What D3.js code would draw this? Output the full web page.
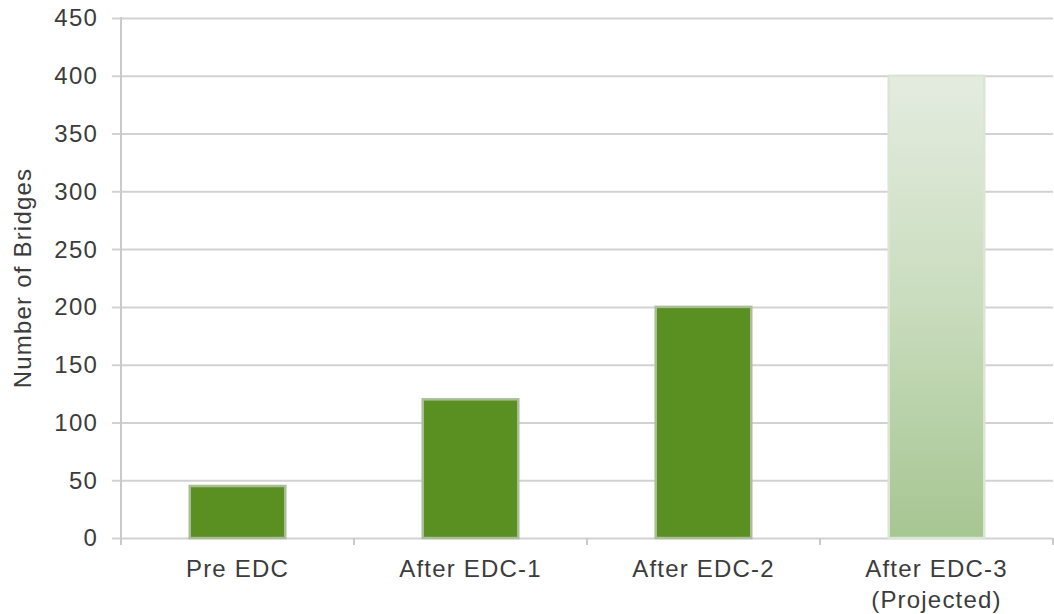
<!DOCTYPE html>
<html>
<head>
<meta charset="utf-8">
<script src="https://cdn.jsdelivr.net/npm/d3@7"></script>
<style>
  html, body { margin: 0; padding: 0; background: #ffffff; }
  svg { display: block; }
  text { font-family: "Liberation Sans", Arial, sans-serif; }
</style>
</head>
<body>
<svg id="chart" width="1054" height="614"></svg>
<script>
// Bridge counts by deployment stage
const categories = ["Pre EDC", "After EDC-1", "After EDC-2", "After EDC-3\n(Projected)"];
const bridges = [45, 120, 200, 400];
const projected = [false, false, false, true];
const yTicks = [0, 50, 100, 150, 200, 250, 300, 350, 400, 450];
const yTitle = "Number of Bridges";

const svg = d3.select("#chart");
const margin = { left: 121, right: 1, top: 18, bottom: 76 };
const W = 1054, H = 614;

const x = d3.scaleBand()
  .domain(categories)
  .range([margin.left, W - margin.right])
  .paddingInner(0.59)
  .paddingOuter(0.295);

const y = d3.scaleLinear()
  .domain([0, 450])
  .range([H - margin.bottom, margin.top]);

// Gradient for the projected bar
const defs = svg.append("defs");
const grad = defs.append("linearGradient")
  .attr("id", "projGrad")
  .attr("x1", 0).attr("y1", 0).attr("x2", 0).attr("y2", 1);
grad.append("stop").attr("offset", "0%").attr("stop-color", "#e4ece0");
grad.append("stop").attr("offset", "50%").attr("stop-color", "#c9dcbd");
grad.append("stop").attr("offset", "100%").attr("stop-color", "#a6c692");

// Horizontal gridlines with outward tick stubs
const yAxis = d3.axisLeft(y)
  .tickValues(yTicks)
  .tickSize(-(W - margin.right - margin.left) - 9)
  .tickFormat(d3.format("d"))
  .tickPadding(0);

const gy = svg.append("g")
  .attr("transform", `translate(${margin.left - 9},0)`)
  .call(yAxis);
gy.select(".domain").remove();
gy.selectAll(".tick line")
  .attr("x1", 0)
  .attr("x2", W - margin.right - margin.left + 9)
  .attr("stroke", "#d2d2d2")
  .attr("stroke-width", 2);
gy.selectAll(".tick text")
  .attr("x", 98 - (margin.left - 9))
  .attr("dy", "0.33em")
  .attr("text-anchor", "end")
  .attr("fill", "#3c3c3c")
  .style("font-size", "24px")
  .style("letter-spacing", "1.2px");

// Vertical axis line
svg.append("line")
  .attr("x1", margin.left).attr("x2", margin.left)
  .attr("y1", y(450) - 1).attr("y2", y(0) + 7)
  .attr("stroke", "#cacaca")
  .attr("stroke-width", 2);

// Category boundary ticks below the baseline
const bounds = categories.slice(1).map(c => x(c) - x.step() * x.paddingInner() / 2)
  .concat([W - margin.right]);
svg.append("g").selectAll("line")
  .data(bounds)
  .join("line")
  .attr("x1", d => d).attr("x2", d => d)
  .attr("y1", y(0)).attr("y2", y(0) + 7)
  .attr("stroke", "#cacaca")
  .attr("stroke-width", 2);

// Bars
svg.append("g").selectAll("rect")
  .data(categories)
  .join("rect")
  .attr("x", d => x(d))
  .attr("width", x.bandwidth())
  .attr("y", (d, i) => y(bridges[i]))
  .attr("height", (d, i) => y(0) - y(bridges[i]))
  .attr("fill", (d, i) => projected[i] ? "url(#projGrad)" : "#5a8f22")
  .attr("stroke", (d, i) => projected[i] ? "#dbe5d4" : "#a9bd98")
  .attr("stroke-width", 2.5);

// Category labels
const xl = svg.append("g").selectAll("text")
  .data(categories)
  .join("text")
  .attr("x", d => x(d) + x.bandwidth() / 2)
  .attr("y", 577)
  .attr("text-anchor", "middle")
  .attr("fill", "#3c3c3c")
  .style("font-size", "24px")
  .style("letter-spacing", "1.2px");
xl.each(function(d) {
  const lines = d.split("\n");
  const t = d3.select(this);
  lines.forEach((ln, k) => {
    t.append("tspan")
      .attr("x", x(d) + x.bandwidth() / 2)
      .attr("dy", k === 0 ? 0 : 31)
      .text(ln);
  });
});

// Y-axis title
svg.append("text")
  .attr("transform", `translate(31,${(y(0) + y(450)) / 2}) rotate(-90)`)
  .attr("text-anchor", "middle")
  .attr("fill", "#3c3c3c")
  .style("font-size", "24px")
  .style("letter-spacing", "1.2px")
  .text(yTitle);
</script>
</body>
</html>
